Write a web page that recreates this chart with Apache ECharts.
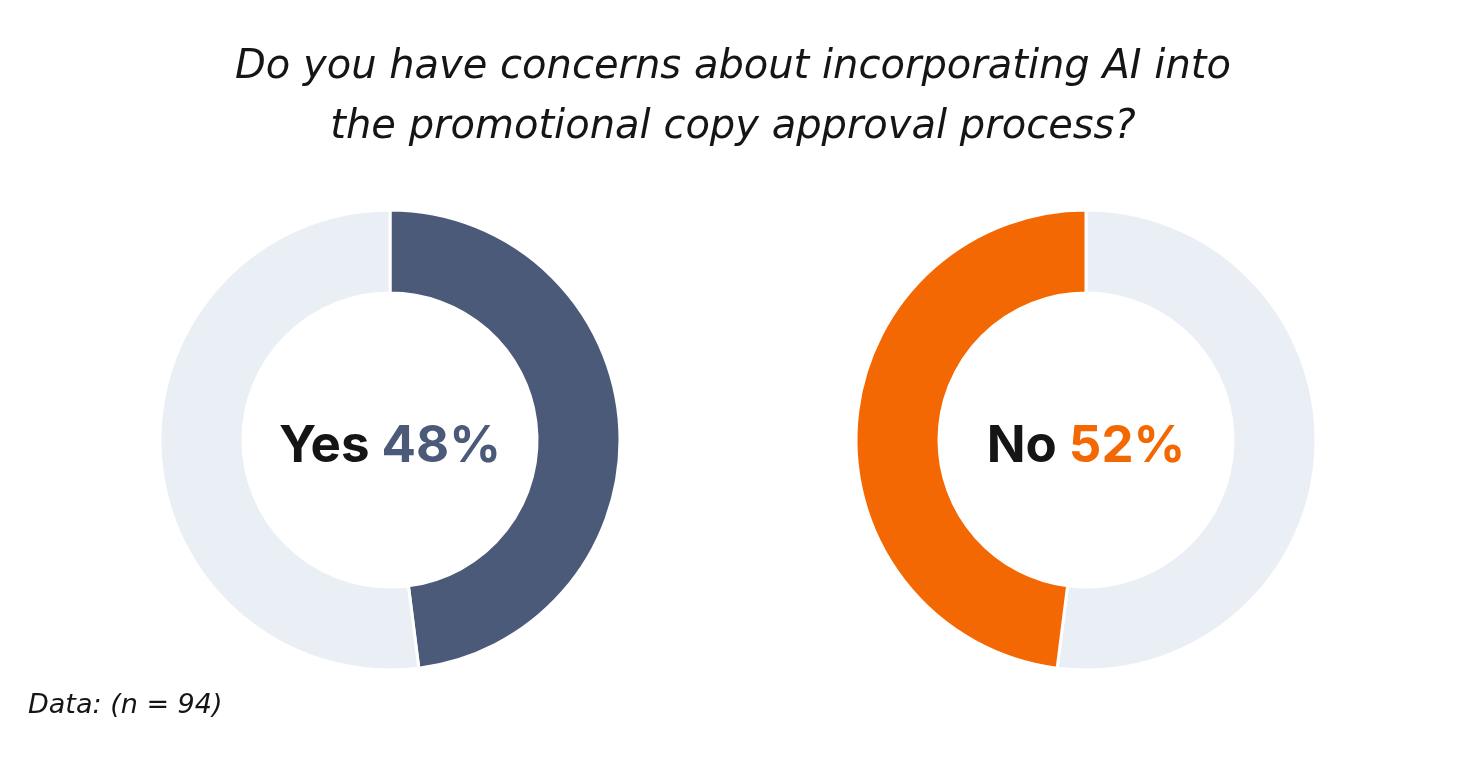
<!DOCTYPE html>
<html>
<head>
<meta charset="utf-8">
<script src="https://cdn.jsdelivr.net/npm/echarts@6/dist/echarts.min.js"></script>
<style>
html,body{margin:0;padding:0;background:#fff;}
#chart{width:1466px;height:772px;}
</style>
</head>
<body>
<div id="chart"></div>
<script>
// survey answers
var answerLabels = ['Yes', 'No'];
var answerShares = [48, 52];
// ring slices as drawn (clockwise from top)
var yesRing = [48, 52];
var noRing = [52, 48];
var sampleNote = 'Data: (n = 94)';

var darkBlue = '#4a5a78';
var orange = '#f46804';
var pale = '#eaeff5';

var chart = echarts.init(document.getElementById('chart'));

function centerLabel(name, share, color){
	return {
		show: true,
		position: 'center',
		formatter: '{a|' + name + '}{b| ' + share + '%}',
		rich: {
			a: { fontFamily: 'Inter', fontWeight: 700, fontSize: 51, color: '#151515', padding: [14, 0, 0, 0] },
			b: { fontFamily: 'Inter', fontWeight: 700, fontSize: 51, color: color, padding: [14, 0, 0, 0] }
		}
	};
}

var option = {
	title: {
		text: 'Do you have concerns about incorporating AI into\nthe promotional copy approval process?',
		left: 'center',
		top: 33,
		textStyle: {
			fontFamily: 'DejaVu Sans',
			fontStyle: 'italic',
			fontWeight: 'normal',
			fontSize: 40,
			lineHeight: 60,
			color: '#151515'
		}
	},
	graphic: [{
		type: 'text',
		left: 28,
		top: 692,
		style: {
			text: sampleNote,
			fontFamily: 'DejaVu Sans',
			fontStyle: 'italic',
			fontSize: 27,
			fill: '#151515'
		}
	}],
	series: [
		{
			type: 'pie',
			center: [390, 440],
			radius: [147, 230],
			startAngle: 90,
			clockwise: true,
			silent: true,
			itemStyle: { borderColor: '#fff', borderWidth: 3 },
			labelLine: { show: false },
			data: [
				{ value: yesRing[0], itemStyle: { color: darkBlue }, label: centerLabel(answerLabels[0], answerShares[0], darkBlue) },
				{ value: yesRing[1], itemStyle: { color: pale }, label: { show: false } }
			]
		},
		{
			type: 'pie',
			center: [1086, 440],
			radius: [147, 230],
			startAngle: 90,
			clockwise: true,
			silent: true,
			itemStyle: { borderColor: '#fff', borderWidth: 3 },
			labelLine: { show: false },
			data: [
				{ value: noRing[0], itemStyle: { color: pale }, label: { show: false } },
				{ value: noRing[1], itemStyle: { color: orange }, label: centerLabel(answerLabels[1], answerShares[1], orange) }
			]
		}
	]
};

chart.setOption(option);
</script>
</body>
</html>
